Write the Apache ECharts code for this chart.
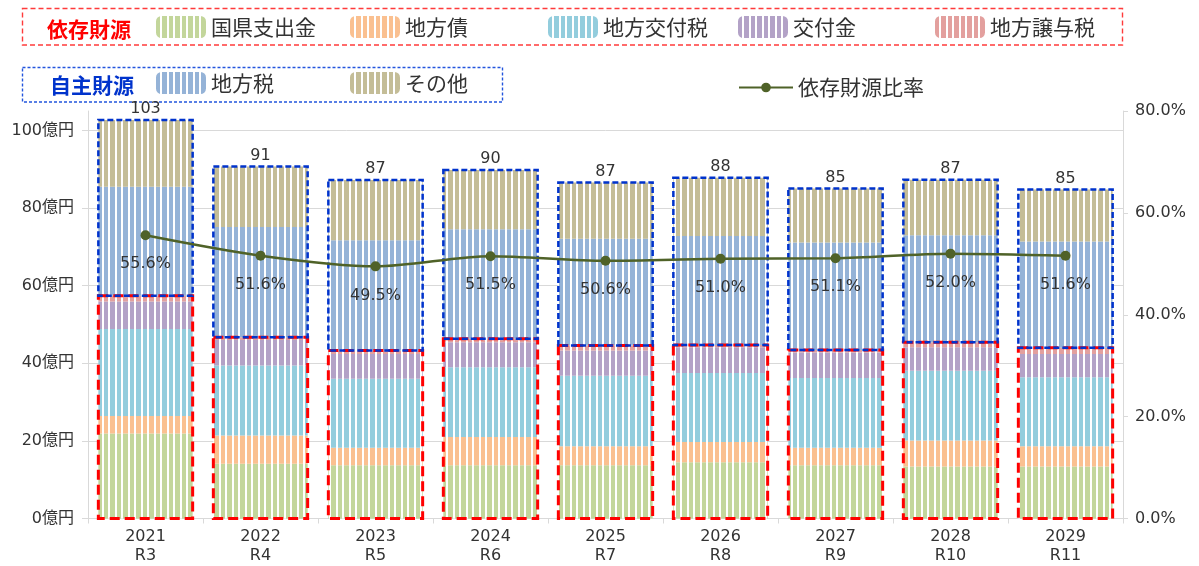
<!DOCTYPE html>
<html>
<head>
<meta charset="utf-8">
<script src="https://cdn.jsdelivr.net/npm/echarts@6/dist/echarts.min.js"></script>
<style>
  html, body { margin: 0; padding: 0; background: #ffffff; }
  #chart { width: 1199px; height: 566px; }
</style>
</head>
<body>
<div id="chart"></div>
<script>
// 年度（西暦・和暦）
const years = ['2021', '2022', '2023', '2024', '2025', '2026', '2027', '2028', '2029'];
const eras  = ['R3', 'R4', 'R5', 'R6', 'R7', 'R8', 'R9', 'R10', 'R11'];

// 依存財源（億円）
const kokukenShishutsukin = [21.9, 14.1, 13.7, 13.7, 13.7, 14.5, 13.7, 13.4, 13.4];
const chihosai            = [4.5, 7.3, 4.55, 7.3, 4.9, 5.2, 4.55, 6.7, 5.2];
const chihoKofuzei        = [22.4, 18.0, 17.75, 18.0, 18.2, 17.8, 17.95, 18.0, 17.8];
const kofukin             = [7.1, 6.6, 6.4, 6.4, 6.5, 6.6, 6.6, 6.0, 6.0];
const chihoJoyozei        = [1.5, 0.7, 0.9, 0.9, 1.3, 0.6, 0.6, 1.3, 1.6];

// 自主財源（億円）
const chihozei = [28.1, 28.4, 28.4, 28.2, 27.5, 28.1, 27.7, 27.6, 27.4];
const sonota   = [17.2, 15.6, 15.5, 15.3, 14.5, 15.0, 13.9, 14.3, 13.4];

// 依存財源比率（％）
const izonRatio = [55.6, 51.6, 49.5, 51.5, 50.6, 51.0, 51.1, 52.0, 51.6];

// 目盛
const leftTicks  = [0, 20, 40, 60, 80, 100];
const rightTicks = [0, 20, 40, 60, 80];

const FONT = '"DejaVu Sans", "Noto Sans CJK JP", sans-serif';
const JFONT = '"Noto Sans CJK JP", sans-serif';
const TEXT = '#333333';
const AXIS = '#d9d9d9';

const dependentTotal = years.map((_, i) =>
  kokukenShishutsukin[i] + chihosai[i] + chihoKofuzei[i] + kofukin[i] + chihoJoyozei[i]);
const grandTotal = years.map((_, i) => dependentTotal[i] + chihozei[i] + sonota[i]);

// 縦じま模様の塗り
function stripe(color) {
  const c = document.createElement('canvas');
  c.width = 13; c.height = 4;
  const g = c.getContext('2d');
  g.fillStyle = color; g.fillRect(0, 0, 13, 4);
  g.fillStyle = '#ffffff'; g.fillRect(4, 0, 2, 4); g.fillRect(11, 0, 2, 4);
  return { image: c, repeat: 'repeat' };
}

const BAR_GAP = 0.18;
const stackDefs = [
  ['国県支出金', kokukenShishutsukin, '#C3D69B'],
  ['地方債', chihosai, '#FAC090'],
  ['地方交付税', chihoKofuzei, '#93CDDD'],
  ['交付金', kofukin, '#B3A2C7'],
  ['地方譲与税', chihoJoyozei, '#E3A09E'],
  ['地方税', chihozei, '#95B3D7'],
  ['その他', sonota, '#C4BD97']
];

const barSeries = stackDefs.map(([name, data, col], k) => {
  const s = {
    name: name,
    type: 'bar',
    stack: 'zaigen',
    data: data,
    barCategoryGap: (BAR_GAP * 100) + '%',
    itemStyle: { color: stripe(col) },
    z: 2,
    silent: true
  };
  if (k === stackDefs.length - 1) {
    s.label = {
      show: true,
      position: 'top',
      distance: 3,
      fontFamily: FONT,
      fontSize: 16,
      color: TEXT,
      formatter: p => String(Math.round(grandTotal[p.dataIndex]))
    };
  }
  return s;
});

// 財源区分ごとの破線枠
function frame(color, width, dash) {
  return function (params, api) {
    const x = api.value(0);
    const lo = api.coord([x, api.value(1)]);
    const hi = api.coord([x, api.value(2)]);
    const w = api.size([1, 0])[0] * (1 - BAR_GAP);
    return {
      type: 'rect',
      shape: { x: lo[0] - w / 2, y: hi[1], width: w, height: lo[1] - hi[1] },
      style: { fill: 'none', stroke: color, lineWidth: width, lineDash: dash }
    };
  };
}

const frameSeries = [
  {
    type: 'custom', name: '依存財源枠',
    data: years.map((_, i) => [i, 0, dependentTotal[i]]),
    encode: { x: 0, y: [1, 2] },
    renderItem: frame('#FF0000', 3, [10, 5]),
    z: 5, silent: true
  },
  {
    type: 'custom', name: '自主財源枠',
    data: years.map((_, i) => [i, dependentTotal[i], grandTotal[i]]),
    encode: { x: 0, y: [1, 2] },
    renderItem: frame('#0033CC', 2.5, [6, 3]),
    z: 6, silent: true
  }
];

const lineSeries = {
  name: '依存財源比率',
  type: 'line',
  yAxisIndex: 1,
  data: izonRatio,
  smooth: 0.3,
  symbol: 'circle',
  symbolSize: 10,
  lineStyle: { color: '#4F6228', width: 2.5 },
  itemStyle: { color: '#4F6228' },
  label: {
    show: true,
    position: 'bottom',
    distance: 16,
    fontFamily: FONT,
    fontSize: 16,
    color: TEXT,
    formatter: p => p.value.toFixed(1) + '%'
  },
  z: 10,
  silent: true
};

// 凡例（列ごとに配置）
const legendText = { fontFamily: JFONT, fontSize: 21, color: TEXT };
function legendItem(name, left, top) {
  return {
    data: [name], left: left, top: top, padding: 0,
    itemWidth: 50, itemHeight: 22, itemGap: 0,
    textStyle: legendText, selectedMode: false
  };
}
const legendRow1 = ['国県支出金', '地方債', '地方交付税', '交付金', '地方譲与税'];
const legendRow1Left = [156, 350, 548, 738, 935];
const legendRow2 = ['地方税', 'その他'];
const legendRow2Left = [156, 350];

const legends = legendRow1.map((n, i) => legendItem(n, legendRow1Left[i], 16))
  .concat(legendRow2.map((n, i) => legendItem(n, legendRow2Left[i], 72)))
  .concat([{
    data: ['依存財源比率'], left: 738, top: 77, padding: 0,
    itemWidth: 54, itemHeight: 12,
    textStyle: legendText, selectedMode: false
  }]);

const option = {
  animation: false,
  backgroundColor: '#ffffff',
  textStyle: { fontFamily: FONT },
  grid: { left: 88, right: 76, top: 111, bottom: 47.5, containLabel: false },
  legend: legends,
  graphic: [
    { type: 'rect', shape: { x: 22.5, y: 8.5, width: 1100, height: 36.5 },
      style: { fill: 'none', stroke: '#FF3B3B', lineWidth: 1.4, lineDash: [5, 3] }, silent: true },
    { type: 'text', x: 47, y: 29,
      style: { text: '依存財源', fill: '#FF0000', font: 'bold 21px ' + JFONT, verticalAlign: 'middle' }, silent: true },
    { type: 'rect', shape: { x: 22.5, y: 67.5, width: 480, height: 34.5 },
      style: { fill: 'none', stroke: '#2255DD', lineWidth: 1.4, lineDash: [3, 2] }, silent: true },
    { type: 'text', x: 50, y: 85,
      style: { text: '自主財源', fill: '#0033CC', font: 'bold 21px ' + JFONT, verticalAlign: 'middle' }, silent: true }
  ],
  xAxis: {
    type: 'category',
    data: years.map((y, i) => y + '\n' + eras[i]),
    boundaryGap: true,
    axisLine: { lineStyle: { color: AXIS } },
    axisTick: { show: true, length: 5, lineStyle: { color: AXIS } },
    axisLabel: { fontFamily: FONT, fontSize: 16, color: TEXT, lineHeight: 19, margin: 9 }
  },
  yAxis: [
    {
      type: 'value',
      min: 0, max: 105,
      axisLine: { show: true, lineStyle: { color: AXIS } },
      axisTick: { show: true, length: 6, customValues: leftTicks, lineStyle: { color: AXIS } },
      axisLabel: {
        customValues: leftTicks,
        fontFamily: FONT, fontSize: 16, color: TEXT, margin: 14,
        formatter: v => v + '億円'
      },
      splitLine: { show: true, lineStyle: { color: AXIS, width: 1 } }
    },
    {
      type: 'value',
      min: 0, max: 80, interval: 20,
      axisLine: { show: true, lineStyle: { color: AXIS } },
      axisTick: { show: true, length: 5, customValues: rightTicks, lineStyle: { color: AXIS } },
      axisLabel: {
        customValues: rightTicks,
        fontFamily: FONT, fontSize: 16, color: TEXT, margin: 12,
        formatter: v => v.toFixed(1) + '%'
      },
      splitLine: { show: false }
    }
  ],
  series: barSeries.concat(frameSeries, [lineSeries])
};

const chart = echarts.init(document.getElementById('chart'), null, { renderer: 'canvas' });
chart.setOption(option);
</script>
</body>
</html>
